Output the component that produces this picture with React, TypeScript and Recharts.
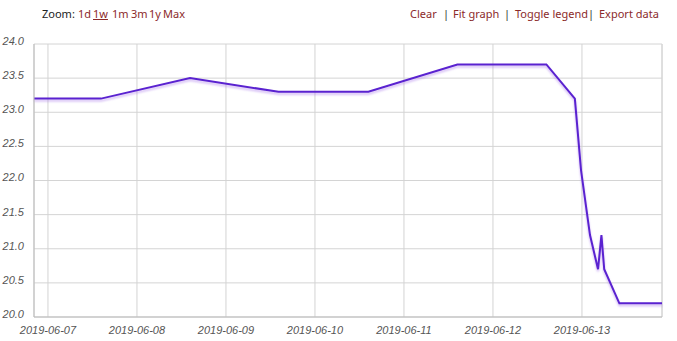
import React from "react";
import { LineChart, Line, XAxis, YAxis, CartesianGrid, ReferenceLine } from "recharts";

const times: string[] = [
  "2019-06-06T20:14:00Z",
  "2019-06-07T14:18:00Z",
  "2019-06-08T14:18:00Z",
  "2019-06-09T14:10:00Z",
  "2019-06-10T14:24:00Z",
  "2019-06-11T14:24:00Z",
  "2019-06-12T14:24:00Z",
  "2019-06-12T22:05:00Z",
  "2019-06-12T23:45:00Z",
  "2019-06-13T02:10:00Z",
  "2019-06-13T04:20:00Z",
  "2019-06-13T05:15:00Z",
  "2019-06-13T06:00:00Z",
  "2019-06-13T10:05:00Z",
  "2019-06-13T21:35:00Z",
];
const values: number[] = [23.2, 23.2, 23.5, 23.3, 23.3, 23.7, 23.7, 23.2, 22.15, 21.2, 20.7, 21.2, 20.7, 20.2, 20.2];
const xTickLabels: string[] = ["2019-06-07", "2019-06-08", "2019-06-09", "2019-06-10", "2019-06-11", "2019-06-12", "2019-06-13"];
const yTicks: number[] = [20, 20.5, 21, 21.5, 22, 22.5, 23, 23.5, 24];
const zoomLinks: string[] = ["1d", "1w", "1m", "3m", "1y", "Max"];
const zoomLinkX: number[] = [78, 93, 112, 131, 149, 163];
const actionLinks: string[] = ["Clear", "Fit graph", "Toggle legend", "Export data"];
const actionLinkX: number[] = [410, 453, 515, 599];
const separatorX: number[] = [443, 504, 588];

const data = times.map((t, i) => ({ t: Date.parse(t), v: values[i] }));
const xTicks = xTickLabels.map((d) => Date.parse(d + "T00:00:00Z"));
const xMin = data[0].t;
const xMax = data[data.length - 1].t;

const fmtDate = (v: number) => new Date(v).toISOString().slice(0, 10);

const linkColor = "#8b2a2a";
const font = "'Liberation Sans', Arial, sans-serif";
const headFont = "'Noto Sans', sans-serif";

export default function App() {
  return (
    <div style={{ position: "absolute", left: 0, top: 0, width: 677, height: 341, background: "#fff", fontFamily: headFont }}>
      <div style={{ position: "absolute", left: 42, top: 6, fontSize: 11, color: "#222" }}>Zoom:</div>
      {zoomLinks.map((l, i) => (
        <div key={l} style={{ position: "absolute", left: zoomLinkX[i], top: 6, fontSize: 11, color: linkColor, textDecoration: l === "1w" ? "underline" : "none" }}>{l}</div>
      ))}
      {actionLinks.map((l, i) => (
        <div key={l} style={{ position: "absolute", left: actionLinkX[i], top: 6, fontSize: 11, color: linkColor }}>{l}</div>
      ))}
      {separatorX.map((x) => (
        <div key={x} style={{ position: "absolute", left: x, top: 6, fontSize: 11, color: "#333" }}>|</div>
      ))}
      <LineChart width={677} height={341} data={data} margin={{ top: 44, right: 15, bottom: 0, left: 0 }}>
        <CartesianGrid stroke="#d4d4d4" strokeWidth={1} />
        <XAxis
          dataKey="t"
          type="number"
          scale="time"
          domain={[xMin, xMax]}
          ticks={xTicks}
          tickFormatter={fmtDate}
          height={24}
          stroke="#bbb"
          tickLine={false}
          tick={{ fill: "#555", fontSize: 11, fontStyle: "italic", fontFamily: font }}
          tickMargin={3}
        />
        <YAxis
          type="number"
          domain={[20, 24]}
          ticks={yTicks}
          tickFormatter={(v: number) => v.toFixed(1)}
          width={34}
          stroke="#bbb"
          tickLine={false}
          tickMargin={4}
          tick={{ fill: "#555", fontSize: 11, fontStyle: "italic", fontFamily: font, dy: -3 }}
        />
        <ReferenceLine x={xMax} stroke="#d4d4d4" />
        <Line
          dataKey="v"
          type="linear"
          stroke="#5a22d0"
          strokeWidth={2}
          dot={false}
          isAnimationActive={false}
          style={{ filter: "drop-shadow(0px 2px 1px rgba(170,120,235,0.55))" }}
        />
      </LineChart>
    </div>
  );
}
